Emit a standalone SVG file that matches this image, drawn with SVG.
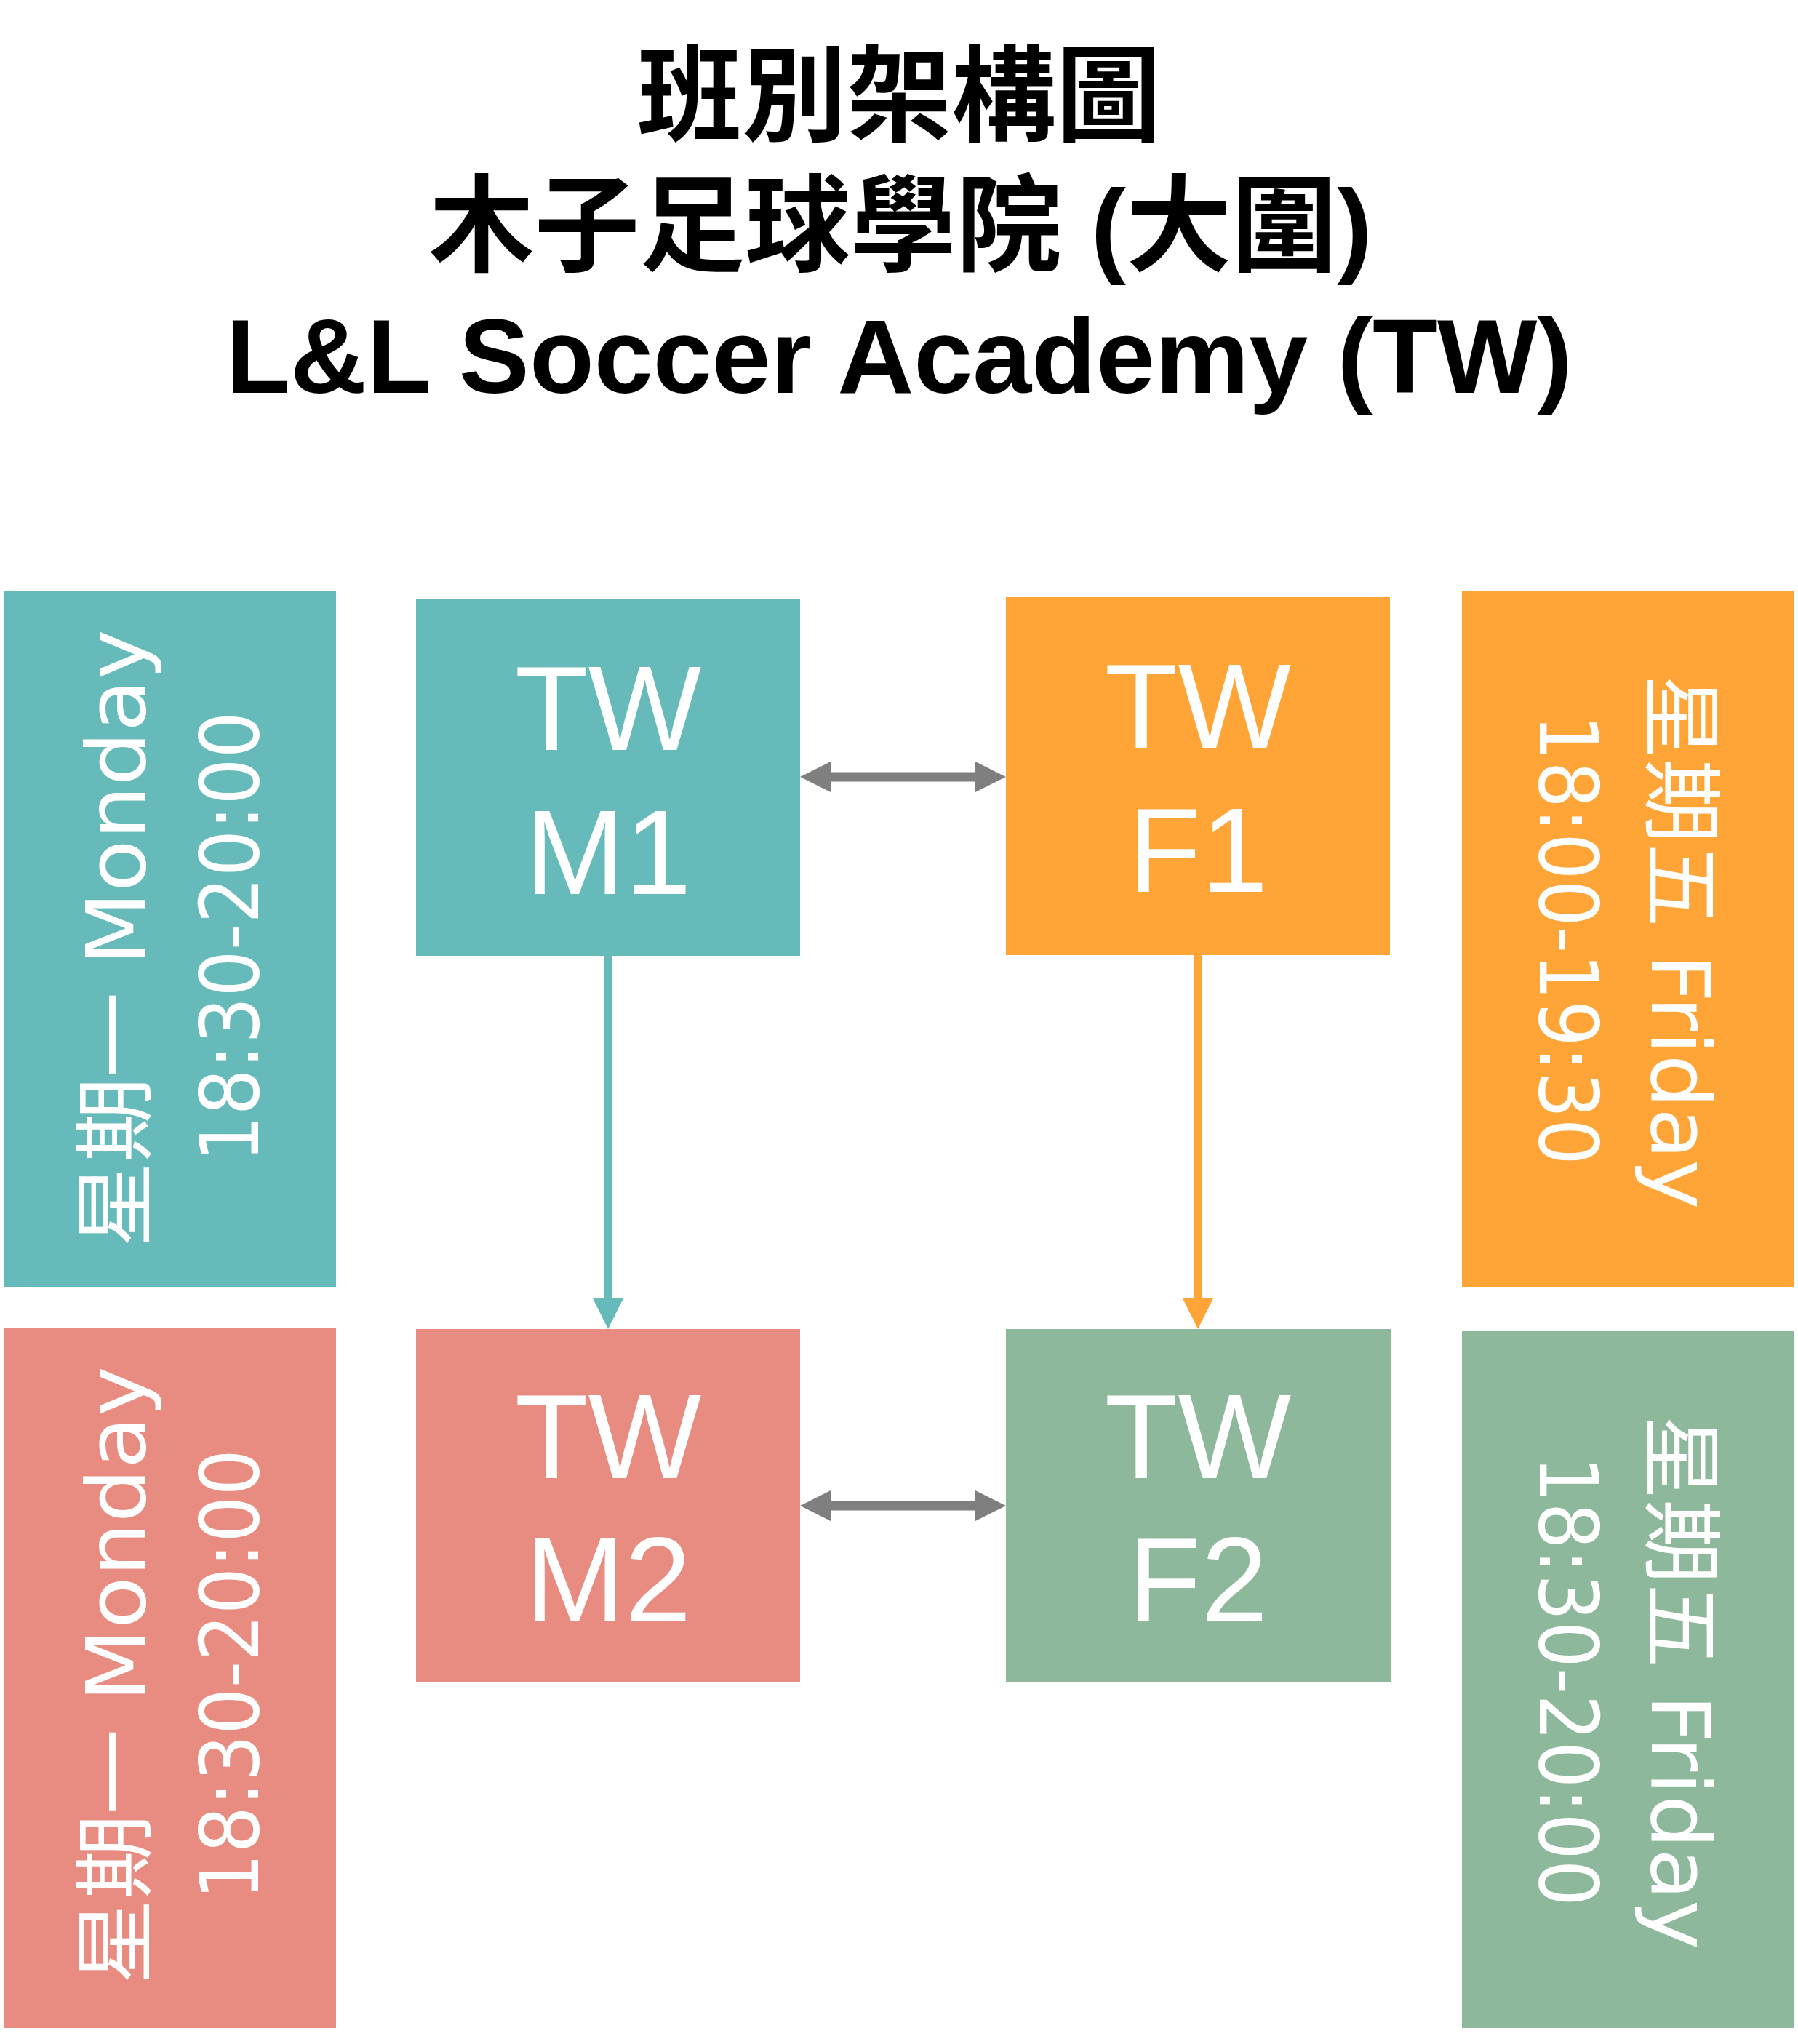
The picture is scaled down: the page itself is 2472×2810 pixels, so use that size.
<svg xmlns="http://www.w3.org/2000/svg" width="2472" height="2810" viewBox="0 0 2472 2810">
<style>
.title{font-family:"Liberation Sans","Noto Sans CJK TC",sans-serif;font-weight:bold;font-size:144px;fill:#000;text-anchor:middle}
.nodetxt{font-family:"Liberation Sans",Arial,sans-serif;font-size:165px;fill:#fff;text-anchor:middle}
.side{font-family:"DejaVu Sans","Noto Sans CJK TC",sans-serif;font-size:112px;fill:#fff;text-anchor:middle}
.teal{fill:#66BBBA}.orange{fill:#FFA537}.salmon{fill:#E88B81}.green{fill:#8DB89B}
.conn{fill:none;stroke-width:13}
</style>
<defs>
<marker id="ah-gray" markerUnits="userSpaceOnUse" markerWidth="42" markerHeight="42" viewBox="0 0 42 42" refX="12" refY="21" orient="auto-start-reverse"><path d="M0,0 L42,21 L0,42 z" fill="#7F7F7F"/></marker>
<marker id="ah-teal" markerUnits="userSpaceOnUse" markerWidth="42" markerHeight="42" viewBox="0 0 42 42" refX="12" refY="21" orient="auto"><path d="M0,0 L42,21 L0,42 z" fill="#66BBBA"/></marker>
<marker id="ah-orange" markerUnits="userSpaceOnUse" markerWidth="42" markerHeight="42" viewBox="0 0 42 42" refX="12" refY="21" orient="auto"><path d="M0,0 L42,21 L0,42 z" fill="#FFA537"/></marker>
</defs>
<rect width="2472" height="2810" fill="#fff"/>
<g id="title">
<text class="title" x="1236" y="183">班別架構圖</text>
<text class="title" x="1238" y="362" style="font-size:145px">木子足球學院 (大圍)</text>
<text class="title" x="1236" y="540" style="font-size:145.5px">L&amp;L Soccer Academy (TW)</text>
</g>
<g id="connectors">
<line class="conn" x1="1130" y1="1068" x2="1353" y2="1068" stroke="#7F7F7F" marker-start="url(#ah-gray)" marker-end="url(#ah-gray)"/>
<line class="conn" x1="1130" y1="2070" x2="1353" y2="2070" stroke="#7F7F7F" marker-start="url(#ah-gray)" marker-end="url(#ah-gray)"/>
<line x1="836" y1="1314" x2="836" y2="1797" stroke="#66BBBA" stroke-width="12" marker-end="url(#ah-teal)"/>
<line x1="1647" y1="1313" x2="1647" y2="1797" stroke="#FFA537" stroke-width="12" marker-end="url(#ah-orange)"/>
</g>
<g id="label-mon1">
<rect class="teal" x="5" y="812" width="457" height="957"/>
<text class="side" transform="translate(199,1290) rotate(-90)" textLength="850" lengthAdjust="spacingAndGlyphs">星期一 Monday</text>
<text class="side" transform="translate(355,1288) rotate(-90)" textLength="620" lengthAdjust="spacingAndGlyphs">18:30-20:00</text>
</g>
<g id="node-m1">
<rect class="teal" x="572" y="823" width="528" height="491"/>
<text class="nodetxt" x="836" y="1031">TW</text>
<text class="nodetxt" x="836" y="1229">M1</text>
</g>
<g id="node-f1">
<rect class="orange" x="1383" y="821" width="528" height="492"/>
<text class="nodetxt" x="1647" y="1028">TW</text>
<text class="nodetxt" x="1647" y="1226">F1</text>
</g>
<g id="label-fri1">
<rect class="orange" x="2010" y="812" width="457" height="957"/>
<text class="side" transform="translate(2271,1295) rotate(90)" textLength="735" lengthAdjust="spacingAndGlyphs">星期五 Friday</text>
<text class="side" transform="translate(2117,1292) rotate(90)" textLength="620" lengthAdjust="spacingAndGlyphs">18:00-19:30</text>
</g>
<g id="label-mon2">
<rect class="salmon" x="5" y="1825" width="457" height="963"/>
<text class="side" transform="translate(199,2303) rotate(-90)" textLength="850" lengthAdjust="spacingAndGlyphs">星期一 Monday</text>
<text class="side" transform="translate(355,2302) rotate(-90)" textLength="620" lengthAdjust="spacingAndGlyphs">18:30-20:00</text>
</g>
<g id="node-m2">
<rect class="salmon" x="572" y="1827" width="528" height="485"/>
<text class="nodetxt" x="836" y="2032">TW</text>
<text class="nodetxt" x="836" y="2229">M2</text>
</g>
<g id="node-f2">
<rect class="green" x="1383" y="1827" width="529" height="485"/>
<text class="nodetxt" x="1647" y="2032">TW</text>
<text class="nodetxt" x="1647" y="2229">F2</text>
</g>
<g id="label-fri2">
<rect class="green" x="2010" y="1830" width="457" height="958"/>
<text class="side" transform="translate(2271,2313) rotate(90)" textLength="735" lengthAdjust="spacingAndGlyphs">星期五 Friday</text>
<text class="side" transform="translate(2117,2311) rotate(90)" textLength="620" lengthAdjust="spacingAndGlyphs">18:30-20:00</text>
</g>
</svg>
